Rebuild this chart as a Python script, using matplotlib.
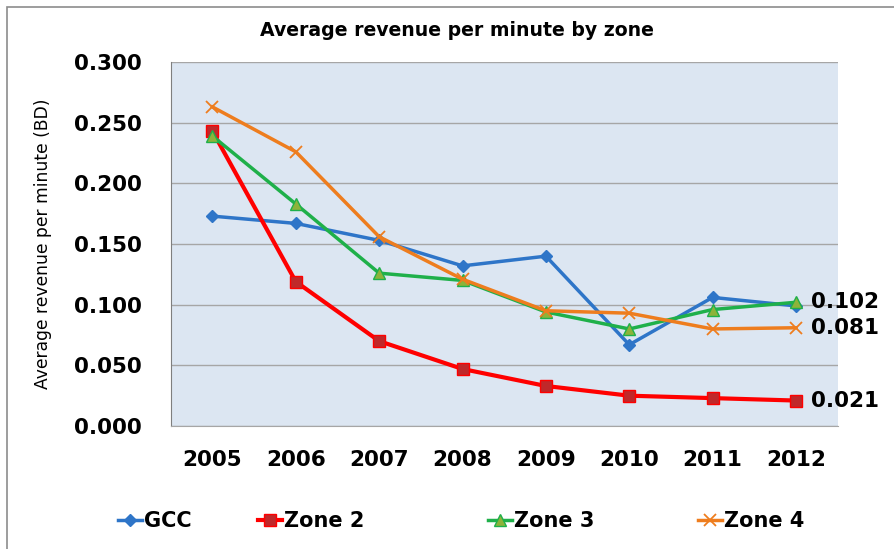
import matplotlib.pyplot as plt
from matplotlib.patches import Rectangle

years = ["2005", "2006", "2007", "2008", "2009", "2010", "2011", "2012"]
gcc = [0.173, 0.167, 0.153, 0.132, 0.140, 0.067, 0.106, 0.099]
zone2 = [0.243, 0.119, 0.070, 0.047, 0.033, 0.025, 0.023, 0.021]
zone3 = [0.239, 0.183, 0.126, 0.120, 0.094, 0.080, 0.096, 0.102]
zone4 = [0.263, 0.226, 0.156, 0.121, 0.095, 0.093, 0.080, 0.081]

plt.rcParams['font.family'] = ['DejaVu Sans']

fig = plt.figure(figsize=(8.94, 5.49), dpi=100)
ax = fig.add_axes([0.191, 0.224, 0.746, 0.663])
ax.set_facecolor("#DCE6F2")

x = range(len(years))
l1, = ax.plot(x, gcc, color="#2E75C8", lw=2.5, marker="D", ms=6, mfc="#2E75C8", mec="#2E75C8", label="GCC")
l2, = ax.plot(x, zone2, color="#FF0000", lw=3, marker="s", ms=9, mfc="#C0282A", mec="#FF0000", label="Zone 2")
l3, = ax.plot(x, zone3, color="#1FB04A", lw=2.5, marker="^", ms=9, mfc="#8DB33A", mec="#1FB04A", label="Zone 3")
l4, = ax.plot(x, zone4, color="#EE7D1E", lw=2.5, marker="x", ms=9, mew=1.3, label="Zone 4")

# end labels
for s in (zone3, zone4, zone2):
    ax.annotate(f"{s[-1]:.3f}", (x[-1], s[-1]), xytext=(11, 0), textcoords="offset points",
                va="center", ha="left", fontsize=15.5, fontweight="bold", annotation_clip=False)

ax.set_xlim(-0.5, len(years) - 0.5)
ax.set_ylim(0, 0.3)
ax.set_yticks([0, 0.05, 0.1, 0.15, 0.2, 0.25, 0.3])
ax.set_yticklabels([f"{v:.3f}" for v in ax.get_yticks()], fontsize=15.5, fontweight="bold")
ax.set_xticks(list(x))
ax.set_xticklabels(years, fontsize=15.5, fontweight="bold")
ax.tick_params(axis="y", length=0, pad=21)
ax.tick_params(axis="x", length=0, pad=17)
ax.grid(axis="y", color="#A6A6A6", lw=1)
ax.set_axisbelow(True)
for side in ("top", "right"):
    ax.spines[side].set_visible(False)
ax.spines["left"].set_color("#7F7F7F")
ax.spines["bottom"].set_color("#A6A6A6")

ax.set_ylabel("Average revenue per minute (BD)", fontsize=12.3)
ax.yaxis.set_label_coords(-0.178, 0.5)
fig.text(0.511, 0.945, "Average revenue per minute by zone", ha="center", va="center",
         fontsize=13.6, fontweight="bold")

# legend entries placed one by one like the original
for line, xpos in ((l1, 118), (l2, 258), (l3, 488), (l4, 698)):
    fig.legend(handles=[line], loc="center left", bbox_to_anchor=(xpos / 894, 0.051),
               frameon=False, prop={"size": 15, "weight": "bold"}, handlelength=1.15,
               handletextpad=0.1, borderpad=0, borderaxespad=0)

fig.patches.append(Rectangle((0.008, -0.1), 1.1, 1.087, transform=fig.transFigure,
                             fill=False, ec="#8C8C8C", lw=1.2))

fig.savefig("out.png", dpi=100)
